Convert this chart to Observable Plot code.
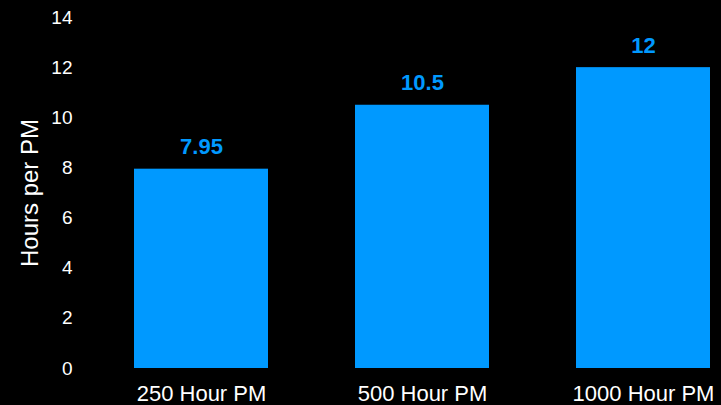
<!DOCTYPE html>
<html>
<head>
<meta charset="utf-8">
<script src="https://cdn.jsdelivr.net/npm/d3@7"></script>
<script src="https://cdn.jsdelivr.net/npm/@observablehq/plot@0.6"></script>
<style>
  html, body { margin: 0; padding: 0; background: #000; }
  #chart svg { display: block; }
</style>
</head>
<body>
<div id="chart"></div>
<script>
// Maintenance interval categories and labour hours per preventive maintenance
const intervals = ["250 Hour PM", "500 Hour PM", "1000 Hour PM"];
const hoursPerPM = [7.95, 10.5, 12];
const yTicks = [0, 2, 4, 6, 8, 10, 12, 14];

const rows = intervals.map((name, i) => ({name, hours: hoursPerPM[i]}));

const blue = "#0099ff";
const font = "'Liberation Sans', Arial, sans-serif";

const chart = Plot.plot({
  width: 721,
  height: 405,
  marginLeft: 122,
  marginRight: 0,
  marginTop: 17,
  marginBottom: 37,
  style: {background: "#000", color: "#fff", fontFamily: font, overflow: "visible"},
  x: {domain: intervals, paddingInner: 0.395, paddingOuter: 0.05},
  y: {domain: [0, 14]},
  marks: [
    Plot.barY(rows, {x: "name", y: "hours", fill: blue}),
    Plot.text(rows, {
      x: "name", y: "hours", text: d => String(d.hours),
      dy: -22, fill: blue, fontSize: 22, fontWeight: "bold"
    }),
    Plot.axisY({
      ticks: yTicks, tickSize: 0, tickPadding: 50, fontSize: 19,
      fill: "#fff", label: null
    }),
    Plot.axisX({
      tickSize: 0, tickPadding: 17, fontSize: 22, fill: "#fff", label: null
    }),
    Plot.text(["Hours per PM"], {
      frameAnchor: "left", textAnchor: "middle", dx: -92, rotate: -90,
      fontSize: 24, fill: "#fff"
    })
  ]
});

document.getElementById("chart").appendChild(chart);
</script>
</body>
</html>
